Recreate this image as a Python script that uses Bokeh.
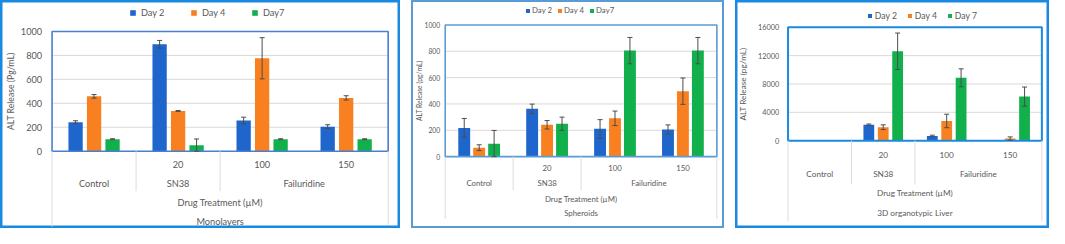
import math
from bokeh.plotting import figure
from bokeh.layouts import row
from bokeh.models import (ColumnDataSource, Range1d, Whisker, TeeHead, Legend,
                          LegendItem, Spacer)
from bokeh.core.properties import value
from bokeh.embed import file_html
from bokeh.resources import INLINE

# ---------------- data ----------------
doses = ["", "20", "100", "150"]
drug_of = ["Control", "SN38", "Failuridine", "Failuridine"]
axis_title = "Drug Treatment (\u00b5M)"

mono_series = ["Day 2", "Day 4", "Day7"]
mono_day2 = [242, 893, 256, 205]
mono_day2_err = [12, 32, 28, 16]
mono_day4 = [458, 336, 776, 445]
mono_day4_err = [15, 4, 172, 18]
mono_day7 = [100, 50, 100, 100]
mono_day7_err = [4, 52, 4, 4]

sph_series = ["Day 2", "Day 4", "Day7"]
sph_day2 = [218, 364, 211, 206]
sph_day2_err = [72, 35, 70, 35]
sph_day4 = [68, 242, 291, 497]
sph_day4_err = [22, 32, 55, 100]
sph_day7 = [97, 250, 805, 805]
sph_day7_err = [102, 50, 100, 100]

liv_series = ["Day 2", "Day 4", "Day 7"]
liv_day2 = [0, 2250, 650, 0]
liv_day2_err = [0, 100, 120, 0]
liv_day4 = [0, 1900, 2780, 300]
liv_day4_err = [0, 330, 950, 230]
liv_day7 = [0, 12620, 8870, 6220]
liv_day7_err = [0, 2570, 1270, 1350]

colors = ["#1f66cc", "#f98020", "#12b04c"]
TXT = "#595959"
FONT = "Lato"

SX = 1049 / 1058
SY = 228 / 238
H = 228

panels = [
    dict(name="Monolayers", ylabel="ALT Release (Pg/mL)", series=mono_series,
         vals=[mono_day2, mono_day4, mono_day7],
         errs=[mono_day2_err, mono_day4_err, mono_day7_err],
         ymax=1000, step=200, width=400,
         outer=(3, 406), plot=(55, 394, 34.3, 159.3), outer_color="#1a8ae0", outer_w=4,
         frame_color="#4a7fd0", frame_w=1.6,
         tick_right=45, ylab_x=13, fs_tick=9.5, fs_leg=9.5, fs_tab=9.5, fs_ylab=9,
         leg=(133, 15, 62, 7, 5), rows=(173, 193, 213, 233), lines=(238, 201, 236),
         barw=0.17, off=0.22),
    dict(name="Spheroids", ylabel="ALT Release (pg/mL)", series=sph_series,
         vals=[sph_day2, sph_day4, sph_day7],
         errs=[sph_day2_err, sph_day4_err, sph_day7_err],
         ymax=1000, step=200, width=313,
         outer=(417, 733), plot=(451, 725, 27.5, 165), outer_color="#5b9bd5", outer_w=3,
         frame_color="#5b9bd5", frame_w=1.6,
         tick_right=446, ylab_x=425, fs_tick=7, fs_leg=8, fs_tab=8, fs_ylab=7,
         leg=(532, 13, 33, 5, 2), rows=(177, 193, 209, 224), lines=(230, 200, 230),
         barw=0.175, off=0.22),
    dict(name="3D organotypic Liver", ylabel="ALT Release (pg/mL)", series=liv_series,
         vals=[liv_day2, liv_day4, liv_day7],
         errs=[liv_day2_err, liv_day4_err, liv_day7_err],
         ymax=16000, step=4000, width=314,
         outer=(744, 1061), plot=(797, 1053, 30, 148.3), outer_color="#1a8ae0", outer_w=4,
         frame_color="#1a8ae0", frame_w=2,
         tick_right=788, ylab_x=752, fs_tick=7.5, fs_leg=9, fs_tab=8.5, fs_ylab=8.5,
         leg=(877, 18, 40.5, 5, 3), rows=(163, 183, 203, 224), lines=(232, 194, 232),
         barw=0.17, off=0.227),
]


def fs(v):
    return "%.1fpx" % (v * 0.97)


def make_panel(c):
    W = c["width"]
    x0 = c["outer"][0]
    px = lambda xr: (xr - x0) * SX
    py = lambda yr: (yr - 2) * SY
    pl, pr, pt, pb = px(c["plot"][0]), px(c["plot"][1]), py(c["plot"][2]), py(c["plot"][3])
    n = len(doses)
    k = n / (pr - pl)
    xs = -0.5 - pl * k
    xe = n - 0.5 + (W - pr) * k
    ymax = c["ymax"]
    m = ymax / (pb - pt)
    ys = -(H - pb) * m
    ye = ymax + pt * m
    X = lambda p: xs + p * k
    Y = lambda p: ye - p * m

    f = figure(width=W, height=H, x_range=Range1d(xs, xe), y_range=Range1d(ys, ye),
               output_backend="svg", toolbar_location=None, min_border=0,
               x_axis_location=None, y_axis_location=None)
    f.grid.visible = False
    f.outline_line_color = c["outer_color"]
    f.outline_line_width = c["outer_w"]
    f.background_fill_color = "white"
    f.border_fill_color = "white"

    ticks = list(range(0, ymax + 1, c["step"]))
    # gridlines
    gt = ticks[1:-1]
    f.segment(x0=[-0.5] * len(gt), x1=[n - 0.5] * len(gt), y0=gt, y1=gt,
              line_color="#d9d9d9", line_width=1)
    # tick labels
    f.text(x=[X(px(c["tick_right"]))] * len(ticks), y=ticks, text=[str(t) for t in ticks],
           text_align="right", text_baseline="middle", text_color=TXT,
           text_font=value(FONT), text_font_size=fs(c["fs_tick"]))
    # y label
    f.text(x=[X(px(c["ylab_x"]))], y=[ymax / 2], text=[c["ylabel"]], angle=math.pi / 2,
           text_align="center", text_baseline="middle", text_color=TXT,
           text_font=value(FONT), text_font_size=fs(c["fs_ylab"]))

    # bars
    items = []
    offs = [-c["off"], 0, c["off"]]
    for d in range(3):
        xsd = [i + offs[d] for i in range(n)]
        v = c["vals"][d]
        e = c["errs"][d]
        src = ColumnDataSource(dict(x=xsd, top=v))
        r = f.vbar(x="x", top="top", width=c["barw"], source=src,
                   fill_color=colors[d], line_color=None)
        items.append(LegendItem(label=c["series"][d], renderers=[r]))
        keep = [i for i in range(n) if v[i] > 0 or e[i] > 0]
        esrc = ColumnDataSource(dict(x=[xsd[i] for i in keep],
                                     up=[v[i] + e[i] for i in keep],
                                     lo=[max(v[i] - e[i], 0) for i in keep]))
        f.add_layout(Whisker(base="x", upper="up", lower="lo", source=esrc,
                             level="overlay",
                             line_color="#4d4d4d", line_width=1,
                             upper_head=TeeHead(size=5, line_color="#4d4d4d", line_width=1),
                             lower_head=TeeHead(size=5, line_color="#4d4d4d", line_width=1)))

    # plot-area border
    f.quad(left=[-0.5], right=[n - 0.5], bottom=[0], top=[ymax], fill_color=None,
           line_color=c["frame_color"], line_width=c["frame_w"])

    # category table
    r1, r2, r3, r4 = [Y(py(r)) for r in c["rows"]]
    f.text(x=list(range(n)), y=[r1] * n, text=doses, text_align="center",
           text_baseline="middle", text_color=TXT, text_font=value(FONT),
           text_font_size=fs(c["fs_tab"]))
    drugs = []
    for dname in drug_of:
        if dname not in drugs:
            drugs.append(dname)
    dx = [sum(i for i in range(n) if drug_of[i] == dn) / drug_of.count(dn) for dn in drugs]
    f.text(x=dx, y=[r2] * len(drugs), text=drugs, text_align="center",
           text_baseline="middle", text_color=TXT, text_font=value(FONT),
           text_font_size=fs(c["fs_tab"]))
    f.text(x=[(n - 1) / 2, (n - 1) / 2], y=[r3, r4], text=[axis_title, c["name"]],
           text_align="center", text_baseline="middle", text_color=TXT,
           text_font=value(FONT), text_font_size=fs(c["fs_tab"]))
    lb_full, lb_mid, lb_right = [Y(py(v)) for v in c["lines"]]
    bx = [i + 0.5 for i in range(n - 1) if drug_of[i] != drug_of[i + 1]]
    lx = [-0.5] + bx + [n - 0.5]
    ly1 = [lb_full] + [lb_mid] * len(bx) + [lb_right]
    f.segment(x0=lx, x1=lx, y0=[0] * len(lx), y1=ly1, line_color="#dcdcdc", line_width=1)

    # legend
    lx0, lyc, pitch, gsz, stand = c["leg"]
    lw = pitch * SX - gsz - stand
    lh = c["fs_leg"] * 1.2
    leg = Legend(items=items, orientation="horizontal",
                 location=(px(lx0), H - py(lyc) - lh / 2),
                 glyph_width=gsz, glyph_height=gsz, label_standoff=stand,
                 label_width=int(lw), label_height=gsz, spacing=0, padding=0, margin=0,
                 border_line_color=None, background_fill_alpha=0,
                 label_text_color=TXT, label_text_font=FONT,
                 label_text_font_size=fs(c["fs_leg"]))
    f.add_layout(leg, "center")
    return f


figs = [make_panel(c) for c in panels]
layout = row(figs[0], Spacer(width=11), figs[1], Spacer(width=11), figs[2], spacing=0)
open("out.html", "w").write(file_html(layout, INLINE))
